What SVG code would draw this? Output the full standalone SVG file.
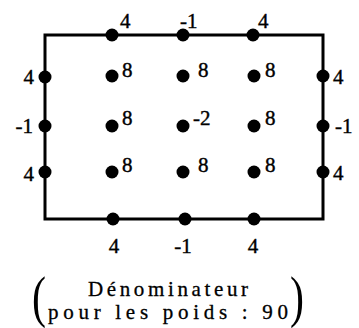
<svg xmlns="http://www.w3.org/2000/svg" width="359" height="328" viewBox="0 0 359 328">
<style>
.dot{fill:#000}
.n{font-family:"Liberation Serif","DejaVu Serif",serif;font-size:21px;fill:#000;stroke:#000;stroke-width:0.4}
.cap{font-family:"Liberation Serif","DejaVu Serif",serif;font-size:21px;fill:#000;stroke:#000;stroke-width:0.3}
.par{font-family:"Liberation Serif","DejaVu Serif",serif;font-size:56px;fill:#000}
.e{text-anchor:end}
.m{text-anchor:middle}
</style>
<rect width="359" height="328" fill="#fff"/>
<g id="connectors">
<path d="M45,35 H323 V219 H45 Z" fill="none" stroke="#000" stroke-width="3"/>
</g>
<g id="top1"><circle class="dot" cx="112" cy="35" r="6.5"/><text class="n" x="120" y="28">4</text></g>
<g id="top2"><circle class="dot" cx="183" cy="35" r="6.5"/><text class="n" x="180" y="28">-1</text></g>
<g id="top3"><circle class="dot" cx="253" cy="35" r="6.5"/><text class="n" x="258" y="28">4</text></g>
<g id="bot1"><circle class="dot" cx="113" cy="219" r="6.5"/><text class="n m" x="114" y="253">4</text></g>
<g id="bot2"><circle class="dot" cx="185" cy="219" r="6.5"/><text class="n m" x="183" y="253">-1</text></g>
<g id="bot3"><circle class="dot" cx="254" cy="219" r="6.5"/><text class="n m" x="253" y="253">4</text></g>
<g id="left1"><circle class="dot" cx="45" cy="77" r="6.5"/><text class="n e" x="34" y="84">4</text></g>
<g id="left2"><circle class="dot" cx="45" cy="126" r="6.5"/><text class="n e" x="33" y="133">-1</text></g>
<g id="left3"><circle class="dot" cx="45" cy="172" r="6.5"/><text class="n e" x="34" y="181">4</text></g>
<g id="right1"><circle class="dot" cx="323" cy="76" r="6.5"/><text class="n" x="333" y="84">4</text></g>
<g id="right2"><circle class="dot" cx="323" cy="126" r="6.5"/><text class="n" x="335" y="133">-1</text></g>
<g id="right3"><circle class="dot" cx="323" cy="172" r="6.5"/><text class="n" x="333" y="180">4</text></g>
<g id="in11"><circle class="dot" cx="112" cy="76" r="6.5"/><text class="n" x="122" y="77">8</text></g>
<g id="in12"><circle class="dot" cx="183" cy="76" r="6.5"/><text class="n" x="198" y="77">8</text></g>
<g id="in13"><circle class="dot" cx="254" cy="76" r="6.5"/><text class="n" x="265" y="77">8</text></g>
<g id="in21"><circle class="dot" cx="112" cy="126" r="6.5"/><text class="n" x="122" y="125">8</text></g>
<g id="in22"><circle class="dot" cx="183" cy="126" r="6.5"/><text class="n" x="193" y="125">-2</text></g>
<g id="in23"><circle class="dot" cx="254" cy="126" r="6.5"/><text class="n" x="265" y="125">8</text></g>
<g id="in31"><circle class="dot" cx="112" cy="172" r="6.5"/><text class="n" x="122" y="172">8</text></g>
<g id="in32"><circle class="dot" cx="183" cy="172" r="6.5"/><text class="n" x="198" y="172">8</text></g>
<g id="in33"><circle class="dot" cx="254" cy="172" r="6.5"/><text class="n" x="265" y="172">8</text></g>
<g id="caption">
<text class="par" transform="translate(32,316) scale(0.75,1)" x="0" y="0">(</text>
<text class="par" transform="translate(290,316) scale(0.75,1)" x="0" y="0">)</text>
<text class="cap m" x="168" y="296" textLength="160" lengthAdjust="spacing">Dénominateur</text>
<text class="cap m" x="168" y="319" textLength="240" lengthAdjust="spacing">pour les poids : 90</text>
</g>
</svg>
